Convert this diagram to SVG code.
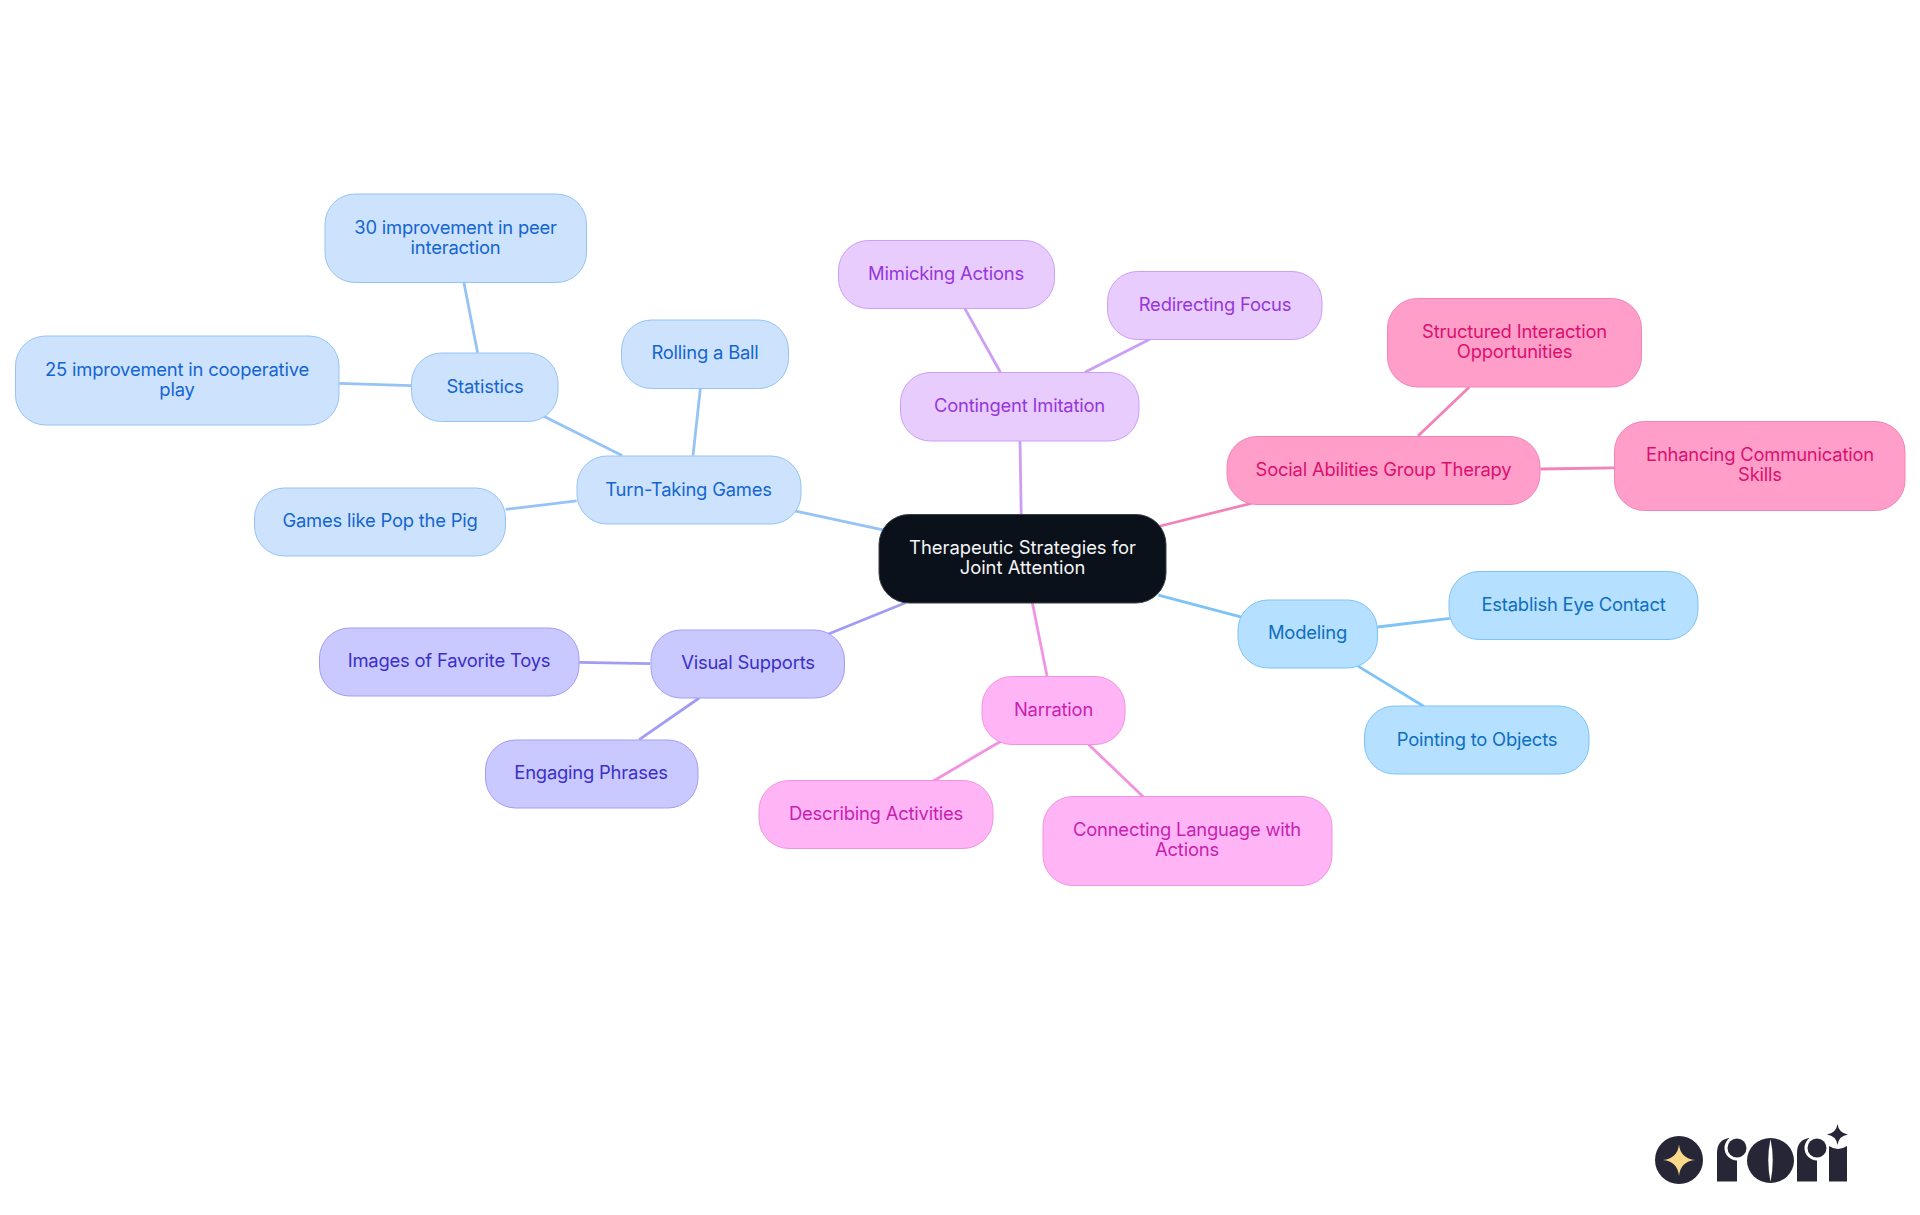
<svg xmlns="http://www.w3.org/2000/svg" width="1920" height="1215" viewBox="0 0 1920 1215">
<style>
text{font-family:"Inter","Noto Sans","Liberation Sans",sans-serif;font-size:18.4px;text-anchor:middle;letter-spacing:-.2px}
.root text{letter-spacing:0}
rect.n{stroke-width:1;rx:30px;ry:30px}
#edges line{stroke-width:2.8;fill:none}
.tb rect{fill:#cde3fd;stroke:#96c3f5}.tb text{fill:#1565d0}#edges .tb{stroke:#96c3f5}
.pu rect{fill:#e8ccfd;stroke:#cc9ff6}.pu text{fill:#9636dc}#edges .pu{stroke:#cc9ff6}
.pk rect{fill:#ff9fc9;stroke:#f283b9}.pk text{fill:#dc0f70}#edges .pk{stroke:#f283b9}
.sk rect{fill:#b5e0ff;stroke:#7ec3f7}.sk text{fill:#0d6fc0}#edges .sk{stroke:#7ec3f7}
.mg rect{fill:#ffb5f5;stroke:#f292e2}.mg text{fill:#c81fb0}#edges .mg{stroke:#f292e2}
.in rect{fill:#c9c9ff;stroke:#a19df4}.in text{fill:#3b2fc8}#edges .in{stroke:#a19df4}
.root rect{fill:#0b111a;stroke:#3a3f47}.root text{fill:#f4f5f6}
.dk{fill:#272636}
</style>
<rect width="1920" height="1215" fill="#fff"/>
<g id="edges">
<line class="tb" x1="793.5" y1="510.6" x2="884" y2="530.2"/>
<line class="tb" x1="543.7" y1="416.3" x2="622" y2="455.5"/>
<line class="tb" x1="464" y1="282.9" x2="477.6" y2="352.7"/>
<line class="tb" x1="339.2" y1="383.3" x2="411.4" y2="385.7"/>
<line class="tb" x1="700.4" y1="388.2" x2="693" y2="455.5"/>
<line class="tb" x1="505.7" y1="509.4" x2="576.7" y2="500.8"/>
<line class="pu" x1="1021.2" y1="514.3" x2="1020" y2="440.8"/>
<line class="pu" x1="964.9" y1="308.6" x2="1000.4" y2="372.2"/>
<line class="pu" x1="1084.9" y1="372.2" x2="1149.8" y2="339.2"/>
<line class="pk" x1="1158.4" y1="526.5" x2="1251.4" y2="503.3"/>
<line class="pk" x1="1418" y1="435.9" x2="1469.4" y2="386.9"/>
<line class="pk" x1="1540.4" y1="469" x2="1613.9" y2="467.8"/>
<line class="sk" x1="1158.4" y1="595.1" x2="1241.6" y2="617.1"/>
<line class="sk" x1="1377.6" y1="627" x2="1449.8" y2="618.4"/>
<line class="sk" x1="1358" y1="666.1" x2="1424" y2="706.5"/>
<line class="mg" x1="1032.3" y1="602.5" x2="1047" y2="675.9"/>
<line class="mg" x1="1001.6" y1="740.8" x2="933" y2="781.2"/>
<line class="mg" x1="1088.6" y1="744.5" x2="1143.7" y2="797.2"/>
<line class="in" x1="906.1" y1="602.5" x2="827.8" y2="634.3"/>
<line class="in" x1="579.2" y1="662.4" x2="650.2" y2="663.7"/>
<line class="in" x1="699.2" y1="698" x2="639.2" y2="739.6"/>
</g>
<g id="root" class="root"><rect class="n" x="879" y="514.500" width="287" height="88.500"/><text x="1022.5" y="554">Therapeutic Strategies for</text><text x="1022.5" y="574">Joint Attention</text></g>
<g id="turn-taking" class="tb"><rect class="n" x="577" y="456" width="224" height="68"/><text x="688.500" y="496">Turn-Taking Games</text></g>
<g id="statistics" class="tb"><rect class="n" x="411.5" y="353" width="146.500" height="68.500"/><text x="485" y="393">Statistics</text></g>
<g id="stat-30" class="tb"><rect class="n" x="325" y="194" width="261.500" height="88.500"/><text x="455.5" y="234">30 improvement in peer</text><text x="455.5" y="254">interaction</text></g>
<g id="stat-25" class="tb"><rect class="n" x="15.500" y="336" width="323.500" height="89"/><text x="177" y="376">25 improvement in cooperative</text><text x="177" y="396">play</text></g>
<g id="rolling" class="tb"><rect class="n" x="621.500" y="320" width="167" height="68.500"/><text x="705" y="359">Rolling a Ball</text></g>
<g id="games" class="tb"><rect class="n" x="254.5" y="488" width="251" height="68"/><text x="380" y="527">Games like Pop the Pig</text></g>
<g id="contingent" class="pu"><rect class="n" x="900.5" y="372.500" width="238.5" height="68.500"/><text x="1019.5" y="412">Contingent Imitation</text></g>
<g id="mimicking" class="pu"><rect class="n" x="838.500" y="240.500" width="216" height="68"/><text x="946" y="280">Mimicking Actions</text></g>
<g id="redirecting" class="pu"><rect class="n" x="1107.5" y="271.500" width="214.500" height="68"/><text x="1215" y="311">Redirecting Focus</text></g>
<g id="social" class="pk"><rect class="n" x="1227" y="436.500" width="313" height="68"/><text x="1383.5" y="476">Social Abilities Group Therapy</text></g>
<g id="structured" class="pk"><rect class="n" x="1387.5" y="298.500" width="254" height="88.500"/><text x="1514.5" y="338">Structured Interaction</text><text x="1514.5" y="358">Opportunities</text></g>
<g id="enhancing" class="pk"><rect class="n" x="1614.500" y="421.500" width="290.500" height="89"/><text x="1760" y="461">Enhancing Communication</text><text x="1760" y="481">Skills</text></g>
<g id="modeling" class="sk"><rect class="n" x="1238" y="600" width="139.500" height="68"/><text x="1307.5" y="639">Modeling</text></g>
<g id="eye-contact" class="sk"><rect class="n" x="1449" y="571.500" width="249" height="68"/><text x="1573.5" y="611">Establish Eye Contact</text></g>
<g id="pointing" class="sk"><rect class="n" x="1364.5" y="706" width="224.500" height="68"/><text x="1477" y="746">Pointing to Objects</text></g>
<g id="narration" class="mg"><rect class="n" x="982" y="676.500" width="143" height="68"/><text x="1053.5" y="716">Narration</text></g>
<g id="describing" class="mg"><rect class="n" x="759" y="780.500" width="234" height="68"/><text x="876" y="820">Describing Activities</text></g>
<g id="connecting" class="mg"><rect class="n" x="1043" y="796.500" width="289" height="89"/><text x="1187" y="836">Connecting Language with</text><text x="1187" y="856">Actions</text></g>
<g id="visual" class="in"><rect class="n" x="651" y="630" width="193.500" height="68"/><text x="748" y="669">Visual Supports</text></g>
<g id="images" class="in"><rect class="n" x="319.500" y="628" width="259.500" height="68"/><text x="449" y="667">Images of Favorite Toys</text></g>
<g id="engaging" class="in"><rect class="n" x="485.500" y="740" width="212.500" height="68"/><text x="591" y="779">Engaging Phrases</text></g>
<g id="logo">
<circle class="dk" cx="1679" cy="1160" r="24"/>
<path fill="#fbd88a" d="M1679,1144.500Q1680.500,1158.500 1695,1160Q1680.500,1161.500 1679,1176Q1677.500,1161.500 1663,1160Q1677.500,1158.500 1679,1144.500Z"/>
<path class="dk" d="M1717,1181.500V1153Q1717,1140 1729,1138L1737,1150V1181.500Z"/>
<circle cx="1737" cy="1148" r="12.500" fill="#fff"/><circle class="dk" cx="1737" cy="1148" r="9.500"/>
<path class="dk" d="M1770.500,1138A23.500,22.500 0 0 0 1770.500,1183A23.500,22.500 0 0 0 1770.500,1138Z"/>
<path fill="#fff" d="M1770.500,1139Q1766,1160 1770.500,1182Q1775,1160 1770.500,1139Z"/>
<path class="dk" d="M1797,1181.500V1153Q1797,1140 1809,1138L1817,1150V1181.500Z"/>
<circle cx="1817" cy="1148" r="12.500" fill="#fff"/><circle class="dk" cx="1817" cy="1148" r="9.500"/>
<path class="dk" d="M1829,1181.500V1146Q1838,1152 1847,1146V1181.500Z"/>
<path class="dk" d="M1837.500,1124Q1838.800,1133.200 1848,1134.500Q1838.800,1135.800 1837.500,1145Q1836.200,1135.800 1827,1134.500Q1836.200,1133.200 1837.500,1124Z"/>
</g>
</svg>
